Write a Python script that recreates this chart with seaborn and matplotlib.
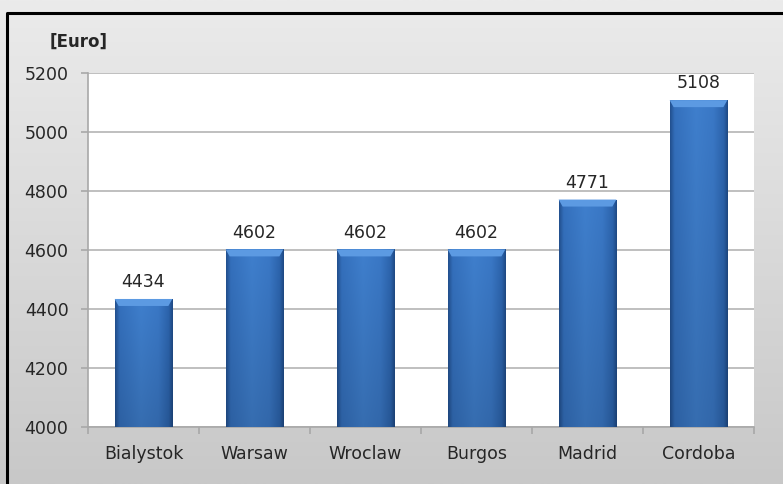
import numpy as np
import pandas as pd
import matplotlib
matplotlib.use("Agg")
import matplotlib.pyplot as plt
import seaborn as sns
from matplotlib.colors import LinearSegmentedColormap, to_rgb
from matplotlib.lines import Line2D
from matplotlib.patches import Polygon

cities = ["Bialystok", "Warsaw", "Wroclaw", "Burgos", "Madrid", "Cordoba"]
costs = [4434, 4602, 4602, 4602, 4771, 5108]
y_ticks = [4000, 4200, 4400, 4600, 4800, 5000, 5200]
unit_label = "[Euro]"

df = pd.DataFrame({"city": cities, "cost": costs})

sns.set_theme(style="white")
plt.rcParams["font.family"] = ["DejaVu Sans"]

W, H = 783, 484
fig = plt.figure(figsize=(W / 100, H / 100), dpi=100)

# background gradient
bg = fig.add_axes([0, 0, 1, 1], zorder=-10)
grad = np.linspace(0, 1, 256).reshape(-1, 1)
bg_cmap = LinearSegmentedColormap.from_list("bg", ["#ebebeb", "#c8c8c8"])
bg.imshow(grad, aspect="auto", cmap=bg_cmap, extent=[0, 1, 0, 1], origin="upper")
bg.set_axis_off()

ax = fig.add_axes([88 / W, (H - 427) / H, (754 - 88) / W, (427 - 73) / H])
ax.set_facecolor("white")
sns.barplot(data=df, x="city", y="cost", ax=ax, color="#3a78c6", width=0.52,
            saturation=1, edgecolor="none", zorder=3)
ax.set_ylim(4000, 5200)
ax.set_xlim(-0.5, len(cities) - 0.5)
ax.set_yticks(y_ticks)
ax.set_yticklabels([str(t) for t in y_ticks])
ax.grid(axis="y", color="#b4b4b4", linewidth=1.2, zorder=0)
ax.grid(axis="x", visible=False)
ax.set_axisbelow(True)
for s in ["top", "right"]:
    ax.spines[s].set_visible(False)
for s in ["left", "bottom"]:
    ax.spines[s].set_color("#a8a8a8")
    ax.spines[s].set_linewidth(1.2)
ax.set_xlabel("")
ax.set_ylabel("")
txtc = "#262626"
ax.tick_params(axis="y", which="major", length=5, width=1.2, color="#a8a8a8",
               direction="out", left=True, pad=9, labelsize=12.5, labelcolor=txtc)
ax.tick_params(axis="x", which="major", length=0, pad=13, labelsize=12.5,
               labelcolor=txtc)
ax.set_xticks(np.arange(-0.5, len(cities)), minor=True)
ax.tick_params(axis="x", which="minor", length=5, width=1.2, color="#a8a8a8",
               direction="out", bottom=True)

# bar shading: horizontal profile x vertical darkening
prof_cols = [to_rgb(c) for c in ["#22508f", "#3470bd", "#3f7fcd", "#3a78c6", "#2c64ad", "#1f4a85"]]
prof_pos = np.array([0.0, 0.08, 0.45, 0.75, 0.93, 1.0])
xs = np.linspace(0, 1, 128)
prof = np.stack([np.interp(xs, prof_pos, [c[i] for c in prof_cols]) for i in range(3)], axis=-1)
ys = np.linspace(0, 1, 64)  # 0 bottom, 1 top
vfac = 0.86 + 0.14 * ys
img = np.clip(prof[None, :, :] * vfac[:, None, None], 0, 1)

px_per_y = 354 / 1200
px_per_x = 666 / 6
bev_h = 7 / px_per_y
bev_in = 4 / px_per_x
for p, v in zip(ax.patches, costs):
    x0, w = p.get_x(), p.get_width()
    im = ax.imshow(img, aspect="auto", extent=[x0, x0 + w, 4000, v],
                   zorder=4, origin="lower", interpolation="bilinear")
    im.set_clip_path(p)
    # top bevel
    bev = Polygon([[x0, v], [x0 + w, v], [x0 + w - bev_in, v - bev_h], [x0 + bev_in, v - bev_h]],
                  closed=True, facecolor="#5c9ae2", edgecolor="none", zorder=5)
    ax.add_patch(bev)
    ax.text(x0 + w / 2, v + 26, str(v), ha="center", va="bottom",
            fontsize=12.5, color=txtc, zorder=6)
ax.set_xlim(-0.5, len(cities) - 0.5)
ax.set_ylim(4000, 5200)

fig.text(50 / W, 1 - 42 / H, unit_label, ha="left", va="center",
         fontsize=12, fontweight="bold", color=txtc)

# border (cropped frame)
fig.add_artist(Line2D([7.5 / W, 7.5 / W, 1.0], [0, 1 - 13 / H, 1 - 13 / H],
                      transform=fig.transFigure, color="black", linewidth=2.2))

fig.savefig("out.png", dpi=100)
